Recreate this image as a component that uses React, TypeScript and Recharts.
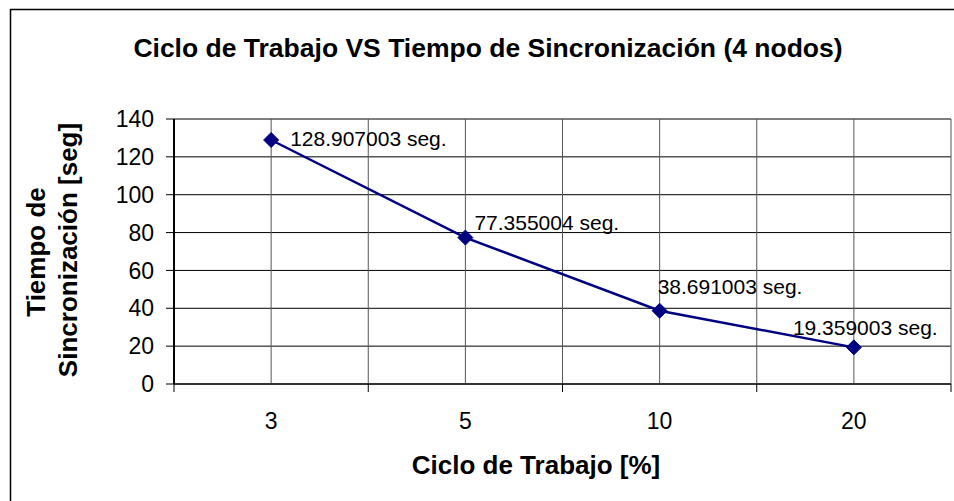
import React from "react";
import {
  LineChart, Line, XAxis, YAxis, CartesianGrid, LabelList,
} from "recharts";

// ciclo de trabajo (categorías) y tiempo de sincronización medido
const cycles = ["3", "5", "10", "20"];
const syncTimes = [128.907003, 77.355004, 38.691003, 19.359003];
const yTicks = [0, 20, 40, 60, 80, 100, 120, 140];
// marcas en el centro (etiqueta) y en los bordes de cada categoría
const xTicks = [-0.5, 0, 0.5, 1, 1.5, 2, 2.5, 3, 3.5];

const data = cycles.map((c, i) => ({ idx: i, cycle: c, time: syncTimes[i] }));

const FONT = "'Liberation Sans', Arial, sans-serif";

// desplazamiento de cada etiqueta respecto a su punto (como en Excel)
const labelNudge: [number, number][] = [[19, 6], [9, -8], [-2, -17], [-61, -12]];

const Diamond = (props: any) => {
  const { cx, cy } = props;
  if (cx == null || cy == null) return null;
  const s = 7.5;
  return (
    <polygon
      points={`${cx},${cy - s} ${cx + s},${cy} ${cx},${cy + s} ${cx - s},${cy}`}
      fill="#000080"
      stroke="#000080"
    />
  );
};

const CycleTick = (props: any) => {
  const { x, y, payload } = props;
  const v = payload.value;
  if (Number.isInteger(v)) {
    return (
      <text x={x} y={y + 45} textAnchor="middle" fontSize={23} fontFamily={FONT} fill="#000">
        {cycles[v]}
      </text>
    );
  }
  return <line x1={x} y1={y} x2={x} y2={y + 8} stroke="#000" strokeWidth={1} />;
};

const TimeLabel = (props: any) => {
  const { x, y, value, index } = props;
  const [dx, dy] = labelNudge[index] || [10, -8];
  return (
    <text x={x + dx} y={y + dy} fontSize={21} fontFamily={FONT} fill="#000">
      {`${value} seg.`}
    </text>
  );
};

export default function App() {
  return (
    <div style={{ position: "absolute", left: 0, top: 0, width: 954, height: 501, background: "#fff" }}>
      <LineChart
        width={954}
        height={501}
        data={data}
        margin={{ top: 119, right: 3, left: 0, bottom: 0 }}
      >
        <rect x={10.5} y={9.5} width={960} height={510} fill="none" stroke="#000" strokeWidth={1.5} />
        <CartesianGrid horizontal={true} vertical={false} stroke="#000" strokeWidth={1} />
        <CartesianGrid horizontal={false} vertical={true} stroke="#555" strokeWidth={1} />
        <XAxis
          dataKey="idx"
          type="number"
          domain={[-0.5, 3.5]}
          ticks={xTicks}
          interval={0}
          height={117}
          tickLine={false}
          tickSize={0}
          tickMargin={0}
          axisLine={{ stroke: "#333", strokeWidth: 2 }}
          tick={<CycleTick />}
        />
        <YAxis
          domain={[0, 140]}
          ticks={yTicks}
          width={174}
          tickSize={8}
          tickMargin={12}
          axisLine={{ stroke: "#000", strokeWidth: 2 }}
          tickLine={{ stroke: "#000" }}
          tick={{ fontSize: 23, fill: "#000", fontFamily: FONT }}
        />
        <Line
          type="linear"
          dataKey="time"
          stroke="#000080"
          strokeWidth={2.5}
          dot={<Diamond />}
          activeDot={false}
          isAnimationActive={false}
        >
          <LabelList dataKey="time" content={<TimeLabel />} />
        </Line>
        <text x={488} y={57} textAnchor="middle" fontSize={26.5} fontWeight="bold" fontFamily={FONT} fill="#000">
          Ciclo de Trabajo VS Tiempo de Sincronización (4 nodos)
        </text>
        <text x={536} y={474} textAnchor="middle" fontSize={26} fontWeight="bold" fontFamily={FONT} fill="#000">
          Ciclo de Trabajo [%]
        </text>
        <text transform="translate(44.5,252) rotate(-90)" textAnchor="middle" fontSize={26} fontWeight="bold" fontFamily={FONT} fill="#000">
          Tiempo de
        </text>
        <text transform="translate(77,250) rotate(-90)" textAnchor="middle" fontSize={26} fontWeight="bold" fontFamily={FONT} fill="#000">
          Sincronización [seg]
        </text>
      </LineChart>
    </div>
  );
}
